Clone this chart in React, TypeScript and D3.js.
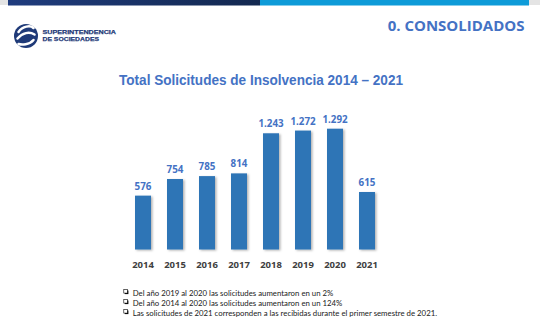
import React from "react";
import * as d3 from "d3";

const years = ["2014", "2015", "2016", "2017", "2018", "2019", "2020", "2021"];
const values = [576, 754, 785, 814, 1243, 1272, 1292, 615];
const valueLabels = ["576", "754", "785", "814", "1.243", "1.272", "1.292", "615"];
const notes = [
  "Del año 2019 al 2020 las solicitudes aumentaron en un 2%",
  "Del año 2014 al 2020 las solicitudes aumentaron en un 124%",
  "Las solicitudes de 2021 corresponden a las recibidas durante el primer semestre de 2021.",
];

const W = 540;
const H = 325;
const BLUE_TEXT = "#4472C4";
const BAR = "#2E75B6";

export default function App() {
  const x = d3.scaleBand<string>().domain(years).range([127, 383]).paddingInner(0.5).paddingOuter(0.25);
  const baseline = 249.5;
  const y = d3.scaleLinear().domain([0, 1400]).range([baseline, baseline - 1400 * 0.0935]);

  return (
    <svg width={W} height={H} style={{ position: "absolute", left: 0, top: 0, background: "#fff" }}>
      <defs>
        <linearGradient id="navy" x1="0" x2="1" y1="0" y2="0">
          <stop offset="0" stopColor="#1F3C7E" />
          <stop offset="1" stopColor="#13284F" />
        </linearGradient>
        <filter id="shadow" x="-30%" y="-10%" width="160%" height="130%">
          <feDropShadow dx="1.5" dy="1" stdDeviation="1" floodColor="#000" floodOpacity="0.3" />
        </filter>
      </defs>
      {/* header strip */}
      <rect x={0} y={0} width={W} height={5} fill="#E4E4E4" />
      <rect x={8} y={0} width={252} height={5.5} fill="url(#navy)" />
      <rect x={260} y={0} width={269} height={5.5} fill="#0E9BD8" />

      {/* logo */}
      <g>
        <circle cx={26} cy={36} r={12} fill="#1F3A78" />
        <g stroke="#fff" strokeWidth={2.5} fill="none" strokeLinecap="round">
          <path d="M18.5,32 C22.5,26 30.5,25 33.5,28" />
          <path d="M17.5,38.5 C22.5,32.5 29.5,31.5 34.5,34.5" />
          <path d="M18.5,44 C21.5,45 29.5,45 33.5,40" />
        </g>
        <text x={42.5} y={34.3} fontFamily="Liberation Sans, Arial, sans-serif" fontWeight={900} fontSize={6.2} fill="#1F3A78" stroke="#1F3A78" strokeWidth={0.25} textLength={73.5} lengthAdjust="spacingAndGlyphs">SUPERINTENDENCIA</text>
        <text x={42.5} y={41.2} fontFamily="Liberation Sans, Arial, sans-serif" fontWeight={900} fontSize={6.2} fill="#1F3A78" stroke="#1F3A78" strokeWidth={0.25} textLength={56.5} lengthAdjust="spacingAndGlyphs">DE SOCIEDADES</text>
      </g>

      <text x={524.5} y={31} textAnchor="end" fontFamily="Open Sans, sans-serif" fontWeight={700} fontSize={15} fill={BLUE_TEXT}>0. CONSOLIDADOS</text>

      <text x={119} y={85} fontFamily="Liberation Sans, Arial, sans-serif" fontWeight={700} fontSize={15} fill={BLUE_TEXT} textLength={284} lengthAdjust="spacingAndGlyphs">Total Solicitudes de Insolvencia 2014 – 2021</text>

      {/* bars */}
      <g filter="url(#shadow)">
        {years.map((yr, i) => (
          <rect key={yr} x={x(yr)} y={y(values[i])} width={x.bandwidth()} height={baseline - y(values[i])} fill={BAR} />
        ))}
      </g>
      {years.map((yr, i) => (
        <text key={"v" + yr} x={(x(yr) as number) + x.bandwidth() / 2} y={y(values[i]) - 6} textAnchor="middle" fontFamily="Open Sans, sans-serif" fontWeight={700} fontSize={9.8} fill={BLUE_TEXT}>{valueLabels[i]}</text>
      ))}
      {years.map((yr) => (
        <text key={"y" + yr} x={(x(yr) as number) + x.bandwidth() / 2} y={267.5} textAnchor="middle" fontFamily="Open Sans, sans-serif" fontWeight={700} fontSize={9.5} fill="#404040">{yr}</text>
      ))}

      {/* notes */}
      {notes.map((n, i) => {
        const by = 295.5 + i * 10;
        return (
          <g key={"n" + i}>
            <rect x={124.8} y={by - 5} width={3.6} height={3.6} fill="#000" />
            <rect x={123.8} y={by - 6} width={3.6} height={3.6} fill="#fff" stroke="#000" strokeWidth={0.6} />
            <text x={132.7} y={by} fontFamily="Lato, Open Sans, sans-serif" fontSize={7.8} fill="#1a1a1a">{n}</text>
          </g>
        );
      })}
    </svg>
  );
}
